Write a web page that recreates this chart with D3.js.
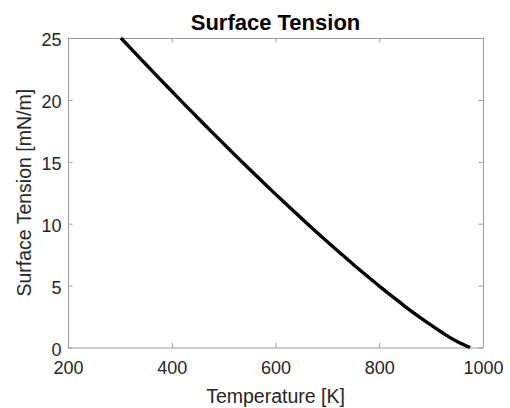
<!DOCTYPE html>
<html>
<head>
<meta charset="utf-8">
<script src="https://cdn.jsdelivr.net/npm/d3@7"></script>
<style>
  html, body { margin: 0; padding: 0; background: #fff; }
  svg { display: block; font-family: "Liberation Sans", Arial, Helvetica, sans-serif; }
</style>
</head>
<body>
<svg id="chart" width="510" height="408"></svg>
<script>
// Temperature [K] and surface tension [mN/m] along the curve
const temperature = [302, 325, 350, 375, 400, 425, 450, 475, 500, 525, 550, 575, 600, 625,
  650, 675, 700, 725, 750, 775, 800, 825, 850, 875, 900, 925, 950, 975];
const tension = [25.00, 23.98, 22.88, 21.78, 20.70, 19.62, 18.56, 17.50, 16.46, 15.42, 14.40,
  13.39, 12.39, 11.41, 10.44, 9.48, 8.54, 7.62, 6.71, 5.83, 4.96, 4.13, 3.31, 2.54, 1.80,
  1.10, 0.48, 0.00];

const xTicks = [200, 400, 600, 800, 1000];
const yTicks = [0, 5, 10, 15, 20, 25];

const titleText = "Surface Tension";
const xLabel = "Temperature [K]";
const yLabel = "Surface Tension [mN/m]";

const svg = d3.select("#chart");
const plot = { left: 68, right: 483, top: 38, bottom: 347.5 };

const x = d3.scaleLinear().domain([200, 1000]).range([plot.left, plot.right]);
const y = d3.scaleLinear().domain([0, 25]).range([plot.bottom, plot.top]);

const axisColor = "#9a9a9a";
const textColor = "#262626";
const tickLen = 4.5;
const fmt = d3.format("d");

// Bottom axis with inward ticks
const axisB = svg.append("g")
  .attr("transform", `translate(0,${plot.bottom})`)
  .call(d3.axisBottom(x).tickValues(xTicks).tickFormat(fmt).tickSizeInner(-tickLen).tickSizeOuter(0));
// Left axis with inward ticks
const axisL = svg.append("g")
  .attr("transform", `translate(${plot.left},0)`)
  .call(d3.axisLeft(y).tickValues(yTicks).tickFormat(fmt).tickSizeInner(-tickLen).tickSizeOuter(0));
// Mirrored top and right ticks, no labels
const axisT = svg.append("g")
  .attr("transform", `translate(0,${plot.top})`)
  .call(d3.axisTop(x).tickValues(xTicks).tickSizeInner(-tickLen).tickSizeOuter(0).tickFormat(""));
const axisR = svg.append("g")
  .attr("transform", `translate(${plot.right},0)`)
  .call(d3.axisRight(y).tickValues(yTicks).tickSizeInner(-tickLen).tickSizeOuter(0).tickFormat(""));

[axisB, axisL, axisT, axisR].forEach(g => {
  g.select(".domain").attr("stroke", axisColor).attr("stroke-width", 1);
  g.selectAll(".tick line").attr("stroke", axisColor).attr("stroke-width", 1);
  g.selectAll(".tick text")
    .attr("fill", textColor)
    .attr("font-size", 18)
    .attr("font-family", "Liberation Sans, Arial, sans-serif");
});
// Tick label placement
axisB.selectAll(".tick text").attr("dy", null).attr("y", 26.5);
axisL.selectAll(".tick text").attr("dy", null).attr("x", -6.5).attr("y", 7.5);

// Surface tension curve
const line = d3.line()
  .x((d, i) => x(temperature[i]))
  .y(d => y(d))
  .curve(d3.curveMonotoneX);

svg.append("path")
  .datum(tension)
  .attr("d", line)
  .attr("fill", "none")
  .attr("stroke", "#000")
  .attr("stroke-width", 3.4)
  .attr("stroke-linejoin", "round");

// Title and axis labels
svg.append("text")
  .attr("x", (plot.left + plot.right) / 2)
  .attr("y", 30)
  .attr("text-anchor", "middle")
  .attr("font-size", 22)
  .attr("font-weight", "bold")
  .attr("fill", "#000")
  .text(titleText);

svg.append("text")
  .attr("x", (plot.left + plot.right) / 2)
  .attr("y", 403)
  .attr("text-anchor", "middle")
  .attr("font-size", 19.5)
  .attr("fill", textColor)
  .text(xLabel);

svg.append("text")
  .attr("transform", `translate(31,${(plot.top + plot.bottom) / 2}) rotate(-90)`)
  .attr("text-anchor", "middle")
  .attr("font-size", 19.5)
  .attr("fill", textColor)
  .text(yLabel);
</script>
</body>
</html>
